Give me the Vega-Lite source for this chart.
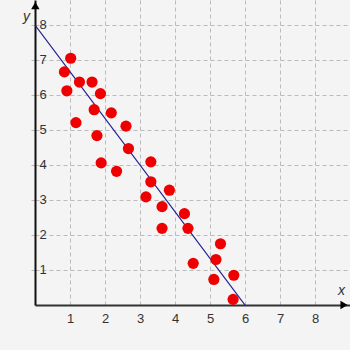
{
  "$schema": "https://vega.github.io/schema/vega-lite/v6.json",
  "width": 315,
  "height": 305,
  "padding": {"left": 35, "top": 0, "right": 0, "bottom": 45},
  "autosize": {"type": "none"},
  "background": "#f4f4f4",
  "config": {
    "view": {"stroke": null},
    "font": "Liberation Sans"
  },
  "datasets": {
    "pts": [
      {"x": 1.02, "y": 7.05}, {"x": 0.84, "y": 6.66}, {"x": 1.27, "y": 6.37},
      {"x": 1.63, "y": 6.37}, {"x": 0.91, "y": 6.12}, {"x": 1.87, "y": 6.04},
      {"x": 1.69, "y": 5.58}, {"x": 2.18, "y": 5.49}, {"x": 1.17, "y": 5.21},
      {"x": 2.6, "y": 5.11}, {"x": 1.77, "y": 4.84}, {"x": 2.67, "y": 4.47},
      {"x": 1.89, "y": 4.06}, {"x": 3.31, "y": 4.09}, {"x": 2.33, "y": 3.82},
      {"x": 3.31, "y": 3.52}, {"x": 3.84, "y": 3.28}, {"x": 3.17, "y": 3.09},
      {"x": 3.63, "y": 2.81}, {"x": 3.63, "y": 2.19}, {"x": 4.27, "y": 2.61},
      {"x": 4.37, "y": 2.19}, {"x": 5.3, "y": 1.75}, {"x": 5.17, "y": 1.3},
      {"x": 4.52, "y": 1.19}, {"x": 5.68, "y": 0.85}, {"x": 5.11, "y": 0.73},
      {"x": 5.66, "y": 0.16}
    ],
    "fit": [{"x": 0, "y": 8}, {"x": 6, "y": 0}],
    "arrows": [
      {"x": 8.83, "y": 0, "shape": "triangle-right"},
      {"x": 0.01, "y": 8.55, "shape": "triangle-up"}
    ]
  },
  "layer": [
    {
      "data": {"name": "fit"},
      "mark": {"type": "line", "color": "#1f1f8f", "strokeWidth": 1.2, "clip": true},
      "encoding": {
        "x": {
          "field": "x", "type": "quantitative",
          "scale": {"domain": [0, 9], "nice": false, "zero": false},
          "axis": {
            "values": [1, 2, 3, 4, 5, 6, 7, 8],
            "domainColor": "#333333", "domainWidth": 2,
            "grid": true, "gridColor": "#bbbbbb", "gridDash": [4, 3], "gridWidth": 1,
            "ticks": false, "labelPadding": 7,
            "labelFontSize": 13, "labelColor": "#333333", "labelFont": "Liberation Sans",
            "title": "x", "titleFontStyle": "italic", "titleFontWeight": "normal",
            "titleFontSize": 14, "titleColor": "#333333",
            "titleX": 306, "titleY": -8, "titleAlign": "center", "titleBaseline": "bottom"
          }
        },
        "y": {
          "field": "y", "type": "quantitative",
          "scale": {"domain": [0, 8.714], "nice": false, "zero": false},
          "axis": {
            "values": [1, 2, 3, 4, 5, 6, 7, 8],
            "domainColor": "#111111", "domainWidth": 2,
            "grid": true, "gridColor": "#bbbbbb", "gridDash": [4, 3], "gridWidth": 1,
            "ticks": true, "tickSize": 6, "tickColor": "#bbbbbb", "tickDash": [4, 3],
            "labelAlign": "left", "labelPadding": -10, "labelBaseline": "middle",
            "labelFontSize": 13, "labelColor": "#333333", "labelFont": "Liberation Sans",
            "title": "y", "titleFontStyle": "italic", "titleFontWeight": "normal",
            "titleFontSize": 14, "titleColor": "#333333", "titleAngle": 0,
            "titleX": -9, "titleY": 16, "titleAlign": "center", "titleBaseline": "middle"
          }
        }
      }
    },
    {
      "data": {"name": "pts"},
      "mark": {"type": "circle", "color": "#ee0000", "opacity": 1, "size": 125},
      "encoding": {
        "x": {"field": "x", "type": "quantitative"},
        "y": {"field": "y", "type": "quantitative"}
      }
    },
    {
      "data": {"name": "arrows"},
      "mark": {"type": "point", "filled": true, "color": "#000000", "opacity": 1, "size": 70},
      "encoding": {
        "x": {"field": "x", "type": "quantitative"},
        "y": {"field": "y", "type": "quantitative"},
        "shape": {"field": "shape", "type": "nominal", "scale": null}
      }
    }
  ]
}
